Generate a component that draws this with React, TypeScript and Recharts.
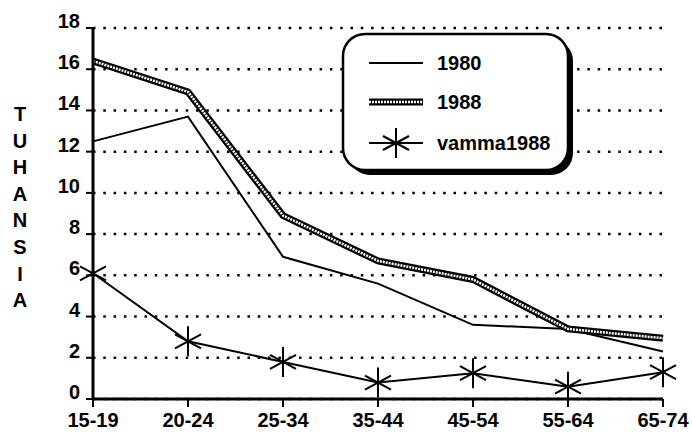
import React from 'react';
import { LineChart, Line, XAxis, YAxis, CartesianGrid, Legend } from 'recharts';

const categories = ['15-19', '20-24', '25-34', '35-44', '45-54', '55-64', '65-74'];
const series1980 = [12.5, 13.7, 6.9, 5.6, 3.6, 3.4, 2.3];
const series1988 = [16.4, 14.9, 8.9, 6.7, 5.8, 3.4, 2.95];
const seriesVamma = [6.1, 2.8, 1.8, 0.8, 1.25, 0.6, 1.3];
const yTicks = [0, 2, 4, 6, 8, 10, 12, 14, 16, 18];
const seriesNames = ['1980', '1988', 'vamma1988'];
const axisLabel = 'TUHANSIA';

const data = categories.map((c, i) => ({
  cat: c,
  a: series1980[i],
  b: series1988[i],
  v: seriesVamma[i],
}));

const FONT = '"Liberation Sans", Arial, Helvetica, sans-serif';

const Star = ({ cx, cy }: { cx: number; cy: number }) => (
  <g stroke="#000" strokeWidth={2} fill="none">
    <line x1={cx} y1={cy - 15} x2={cx} y2={cy + 15} />
    <line x1={cx - 13} y1={cy - 7} x2={cx + 13} y2={cy + 7} />
    <line x1={cx - 13} y1={cy + 7} x2={cx + 13} y2={cy - 7} />
  </g>
);

const YTick = (props: any) => {
  const { x, y, payload } = props;
  return (
    <text x={x} y={y} textAnchor="end" fontSize={20} fontWeight="bold" fontFamily={FONT} fill="#000">
      {payload.value}
    </text>
  );
};

const XTick = (props: any) => {
  const { x, y, payload } = props;
  return (
    <text x={x} y={y} dy={18} textAnchor="middle" fontSize={20} fontWeight="bold" fontFamily={FONT} fill="#000">
      {payload.value}
    </text>
  );
};

const YLabel = () => (
  <g>
    {axisLabel.split('').map((ch, i) => (
      <text
        key={i}
        x={20}
        y={121 + i * 26.6}
        textAnchor="middle"
        fontSize={20}
        fontWeight="bold"
        fontFamily={FONT}
        fill="#000"
      >
        {ch}
      </text>
    ))}
  </g>
);

const LegendBox = () => {
  const rows = [33, 72, 113];
  return (
    <svg width={240} height={150} style={{ display: 'block' }}>
      <rect x={8} y={9} width={225} height={136} rx={22} fill="#000" />
      <rect x={3} y={4} width={225} height={136} rx={22} fill="#fff" stroke="#000" strokeWidth={2.5} />
      <line x1={29} y1={rows[0]} x2={83} y2={rows[0]} stroke="#000" strokeWidth={2} />
      <line x1={29} y1={rows[1]} x2={83} y2={rows[1]} stroke="#000" strokeWidth={7} />
      <line x1={29} y1={rows[1]} x2={83} y2={rows[1]} stroke="#fff" strokeWidth={2.5} strokeDasharray="2 1" />
      <line x1={29} y1={rows[2]} x2={83} y2={rows[2]} stroke="#000" strokeWidth={2} />
      <Star cx={56} cy={rows[2]} />
      {seriesNames.map((n, i) => (
        <text key={n} x={97} y={rows[i] + 7} fontSize={20} fontWeight="bold" fontFamily={FONT} fill="#000">
          {n}
        </text>
      ))}
    </svg>
  );
};

export default function App() {
  return (
    <div style={{ position: 'absolute', left: 0, top: 0, width: 692, height: 432, background: '#fff' }}>
      <LineChart
        width={692}
        height={432}
        data={data}
        margin={{ top: 28, right: 29, bottom: 0, left: 0 }}
      >
        <CartesianGrid vertical={false} stroke="#000" strokeWidth={2.5} strokeDasharray="2.5 7.8" />
        <XAxis
          dataKey="cat"
          height={33}
          axisLine={{ stroke: '#000', strokeWidth: 3 }}
          tickLine={{ stroke: '#000', strokeWidth: 2 }}
          tickSize={8}
          tickMargin={2}
          tick={<XTick />}
          interval={0}
        />
        <YAxis
          width={93}
          domain={[0, 18]}
          ticks={yTicks}
          axisLine={{ stroke: '#000', strokeWidth: 3 }}
          tickLine={{ stroke: '#000', strokeWidth: 2 }}
          tickSize={7}
          tickMargin={6}
          tick={<YTick />}
          interval={0}
          label={{ content: () => <YLabel /> }}
        />
        <Line
          type="linear"
          dataKey="a"
          name={seriesNames[0]}
          stroke="#000"
          strokeWidth={2}
          dot={false}
          activeDot={false}
          isAnimationActive={false}
        />
        <Line
          type="linear"
          dataKey="b"
          name={seriesNames[1]}
          stroke="#000"
          strokeWidth={7}
          dot={false}
          activeDot={false}
          isAnimationActive={false}
        />
        <Line
          type="linear"
          dataKey="b"
          name={seriesNames[1] + '-inner'}
          stroke="#fff"
          strokeWidth={2.5}
          strokeDasharray="2 1"
          dot={false}
          activeDot={false}
          isAnimationActive={false}
        />
        <Line
          type="linear"
          dataKey="v"
          name={seriesNames[2]}
          stroke="#000"
          strokeWidth={2}
          dot={(p: any) => <Star key={p.index} cx={p.cx} cy={p.cy} />}
          activeDot={false}
          isAnimationActive={false}
        />
        <Legend
          layout="horizontal"
          verticalAlign="middle"
          align="center"
          content={() => <LegendBox />}
          wrapperStyle={{ position: 'absolute', left: 340, top: 30, width: 240, height: 150 }}
        />
      </LineChart>
    </div>
  );
}
